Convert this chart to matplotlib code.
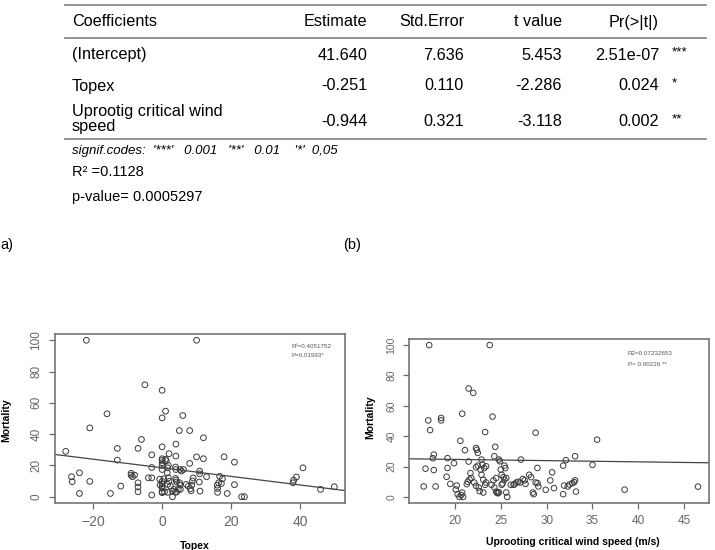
import matplotlib
matplotlib.use("Agg")
import matplotlib.pyplot as plt
from matplotlib.lines import Line2D

plt.rcParams['font.family'] = ['Liberation Sans', 'DejaVu Sans']

W, H = 715, 550

# ---- regression table ----
col_names = ["Coefficients", "Estimate", "Std.Error", "t value", "Pr(>|t|)"]
row_names = ["(Intercept)", "Topex", "Uprootig critical wind\nspeed"]
estimate = ["41.640", "-0.251", "-0.944"]
std_error = ["7.636", "0.110", "0.321"]
t_value = ["5.453", "-2.286", "-3.118"]
p_value = ["2.51e-07", "0.024", "0.002"]
stars = ["***", "*", "**"]
signif_codes = "signif.codes:  '***'   0.001   '**'   0.01    '*'  0,05"
model_r2 = "R² =0.1128"
model_p = "p-value= 0.0005297"

# ---- scatter (a): Topex vs mortality ----
topex = [-22, 10, -5, 0, -16, 1, 0, 6, -21, 5, 8, -6, 12, 4, -28, -13, -7, 0, -3, 2,
         4, 10, 18, -13, 12, 21, 0, 0, 0, 0, 0, 0, 0, 0, 0, 0, 0, 8, -26.3, -26.1,
         -24, -24, -21, -15, -12, -9, -9, -8.6, -8, -7, -7, -7, -4, -3, -3, -3, 1, 1.2, 1.8, 1.6,
         1.5, 1.8, 2, 1.6, 2.4, 0.7, 1.6, 3, 3, 3.4, 3.9, 4, 3.9, 4.1, 4.2, 3.8, 4.2, 4.7, 5.2, 5.6,
         6.2, 5.1, 5.2, 5.3, 7, 7.6, 8.2, 8.6, 8.4, 9, 8.8, 10.9, 10.9, 10.8, 11, 12.9, 16, 16.1, 16.1, 16.4,
         16.7, 17.5, 17.2, 18.9, 21, 23.1, 23.9, 38, 38.2, 39, 40.9, 46, 50, -0.7, 0.5, -0.6]
mort_a = [100, 100, 71.5, 68, 53, 54.7, 50.4, 51.9, 44, 42.3, 42.3, 36.6, 37.7, 33.6, 29, 30.9, 30.9, 31.9, 26.8, 27.5,
          26, 25.5, 25.5, 23.4, 24.3, 22.1, 24.3, 23.2, 21.7, 20, 17.4, 9.8, 8.3, 6.8, 5.5, 3.2, 2.6, 21.3, 12.8, 9.6,
          15.3, 2.1, 9.8, 2.1, 6.8, 15, 13.8, 12.8, 13.8, 8.9, 6.2, 3.2, 12.1, 18.7, 12.1, 1.1, 24, 23, 20, 18.5,
          15.3, 12.1, 9.8, 7.9, 6.8, 3.2, 2.8, 0, 3.6, 4.7, 19, 17.4, 11.7, 10.6, 9.4, 3, 3, 4.7, 17.4, 16.4,
          17.4, 8.9, 7.4, 4.7, 7.9, 6.8, 5.1, 7.4, 3.8, 12, 10, 16.4, 14.7, 9.4, 3.6, 12.8, 7.4, 5.3, 2.8, 8.9,
          13, 11.5, 8.5, 2.1, 7.7, 0, 0, 8.9, 10.6, 12.6, 18.5, 4.7, 6.4, 11.2, 11.5, 7.5]
fit_a = (18.5, -0.274)   # intercept, slope as drawn
note_a = ["R²=0.4051752", "P=0.01993*"]

# ---- scatter (b): uprooting critical wind speed vs mortality ----
wind = [17.2, 23.8, 21.5, 22, 17.1, 18.5, 18.5, 17.3, 20.8, 24.1, 28.8, 35.5, 46.5, 38.5, 23.3, 16.6, 16.8, 17.6, 17.7, 17.7,
        17.9, 19.1, 19.2, 19.2, 19.5, 19.9, 20.1, 20.2, 20.3, 20.5, 20.7, 20.9, 20.8, 20.6, 21.1, 21.3, 21.4, 21.6, 21.8, 21.7,
        21.5, 22.3, 22.4, 22.5, 22.3, 22.5, 22.1, 22.3, 22.6, 22.7, 22.9, 22.8, 23, 23.2, 23.4, 23.1, 23.4, 23.3, 23.1, 22.9,
        24, 24.2, 24.3, 24.5, 24.5, 24.6, 24.7, 24.8, 24.3, 24.4, 24.8, 24.9, 25, 25.1, 25.3, 25.4, 25.6, 25.4, 25.5, 25.6,
        25.7, 25.2, 25.1, 26.1, 26.4, 26.5, 26.7, 26.9, 27.1, 27.2, 27.4, 27.6, 27.7, 28.1, 28.3, 28.5, 28.6, 29, 28.8, 29,
        29.1, 29.9, 30.4, 30.6, 30.8, 31.8, 31.8, 31.9, 32.1, 32.3, 32.5, 32.8, 33, 33.1, 33.1, 33.2, 35]
mort_b = [100, 100, 71.4, 68.5, 50.4, 52, 50.4, 44, 54.8, 52.9, 42.3, 37.7, 6.8, 4.8, 42.7, 6.9, 18.6, 25.5, 27.9, 17.7,
          6.9, 13.3, 19.1, 25.5, 8.6, 22.2, 4.9, 7.5, 1.8, 0, 1.3, 0, 2.9, 37, 30.8, 8.4, 10, 11.5, 12.4, 15.7,
          23.3, 32.2, 31, 29, 19.5, 20.6, 9.5, 7.3, 6.2, 3.8, 14.6, 18, 21.3, 19, 20.2, 11.3, 9.5, 8, 2.9, 24.6,
          8, 10.9, 6.2, 12.4, 3.5, 2.7, 2.4, 3.1, 26.8, 33, 24.6, 23.5, 18, 14.6, 13, 11.3, 12.4, 20.6, 19, 2.9,
          0, 8.9, 8, 8, 8, 8.4, 9.5, 10, 9.5, 24.6, 11.8, 10.9, 8.6, 14.6, 13, 2.9, 1.8, 19.1, 9.5, 9.1,
          6.9, 4.7, 10.9, 16.2, 5.8, 20.6, 1.8, 7.5, 24.2, 6.9, 8.2, 9.1, 9.8, 10.9, 26.8, 3.5, 21.1]
fit_b = (26.3, -0.08)
note_b = ["R2=0.07232653", "P= 0.00226 **"]


def fx(x):
    return x / W


def fy(y):
    return 1 - y / H


fig = plt.figure(figsize=(W / 100, H / 100), dpi=100)

# table rules
for y, x0, x1 in [(5, 65, 706), (38, 65, 706), (139, 65, 706)]:
    fig.add_artist(Line2D([fx(x0), fx(x1)], [fy(y), fy(y)], color="#8a8a8a", lw=1.3,
                          transform=fig.transFigure))

tfs = 11.7
col_right = [367, 464, 562, 659]
fig.text(fx(72), fy(22), col_names[0], fontsize=tfs, va="center", ha="left")
for name, xr in zip(col_names[1:], col_right):
    fig.text(fx(xr), fy(22), name, fontsize=tfs, va="center", ha="right")

row_y = [55, 86, 119]
for i, yy in enumerate(row_y):
    fig.text(fx(72), fy(yy), row_names[i], fontsize=tfs, va="center", ha="left",
             linespacing=1.0)
    vals = [estimate[i], std_error[i], t_value[i], p_value[i]]
    for v, xr in zip(vals, col_right):
        fig.text(fx(xr), fy(yy if i < 2 else 122), v, fontsize=tfs, va="center", ha="right")
    fig.text(fx(672), fy((yy if i < 2 else 122) - 3), stars[i], fontsize=tfs - 2,
             va="center", ha="left")

fig.text(fx(72), fy(151), signif_codes, fontsize=9.5, style="italic", va="center", ha="left")
fig.text(fx(72), fy(172), model_r2, fontsize=10.5, va="center", ha="left")
fig.text(fx(72), fy(197), model_p, fontsize=10.5, va="center", ha="left")
fig.text(fx(0), fy(245), "a)", fontsize=10.5, va="center", ha="left")
fig.text(fx(343), fy(245), "(b)", fontsize=10.5, va="center", ha="left")


def r_style(ax, xfs, yfs):
    for s in ax.spines.values():
        s.set_color("#6a6a6a")
        s.set_linewidth(1.1)
    ax.tick_params(colors="#6a6a6a", length=4, width=0.9)
    ax.tick_params(axis="x", labelsize=xfs, labelcolor="#666666", pad=5)
    ax.tick_params(axis="y", labelsize=yfs, labelcolor="#666666", pad=5)
    for lab in ax.get_yticklabels():
        lab.set_rotation(90)
        lab.set_va("center")


# plot (a)
ax1 = fig.add_axes([fx(55), fy(503), 290 / W, 169 / H])
ax1.scatter(topex, mort_a, s=17, facecolors="none", edgecolors="#3a3a3a", linewidths=0.7)
ax1.axline((0, fit_a[0]), slope=fit_a[1], color="#444444", lw=0.9)
ax1.set_xlim(-31.1, 53.1)
ax1.set_ylim(-4, 104)
ax1.set_xticks([-20, 0, 20, 40])
ax1.set_yticks([0, 20, 40, 60, 80, 100])
r_style(ax1, 10, 8.5)
ax1.text(0.815, 0.92, note_a[0], transform=ax1.transAxes, fontsize=4.5, color="#555555")
ax1.text(0.815, 0.865, note_a[1], transform=ax1.transAxes, fontsize=4.5, color="#555555")
fig.text(fx(6), fy(420), "Mortality", rotation=90, fontsize=7.5, fontweight="bold",
         va="center", ha="center")
fig.text(fx(195), fy(546), "Topex", fontsize=7.5, fontweight="bold", va="center", ha="center")

# plot (b)
ax2 = fig.add_axes([fx(409), fy(503), 300 / W, 164 / H])
ax2.scatter(wind, mort_b, s=16, facecolors="none", edgecolors="#3a3a3a", linewidths=0.7)
ax2.axline((0, fit_b[0]), slope=fit_b[1], color="#444444", lw=0.9)
ax2.set_xlim(15.0, 47.7)
ax2.set_ylim(-4, 104)
ax2.set_xticks([20, 25, 30, 35, 40, 45])
ax2.set_yticks([0, 20, 40, 60, 80, 100])
r_style(ax2, 8.5, 7.5)
ax2.text(0.73, 0.9, note_b[0], transform=ax2.transAxes, fontsize=4.5, color="#555555")
ax2.text(0.73, 0.835, note_b[1], transform=ax2.transAxes, fontsize=4.5, color="#555555")
fig.text(fx(370), fy(417), "Mortality", rotation=90, fontsize=7.5, fontweight="bold",
         va="center", ha="center")
fig.text(fx(573), fy(542), "Uprooting critical wind speed (m/s)", fontsize=7.5,
         fontweight="bold", va="center", ha="center")

fig.savefig("out.png", dpi=100)
